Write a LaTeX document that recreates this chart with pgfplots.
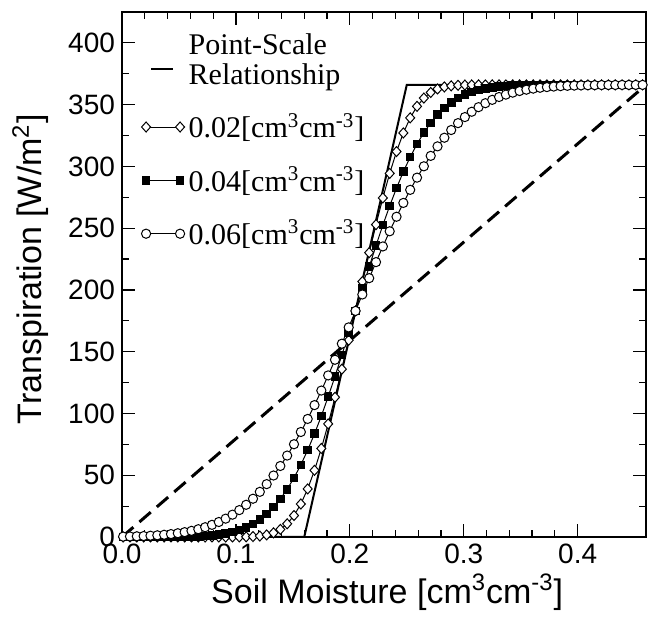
\documentclass[border=0pt]{standalone}
\usepackage{fontspec}
\setmainfont{Liberation Sans}
\newfontfamily\timesfont{Liberation Serif}
\usepackage{pgfplots}
\usepackage{pgfplotstable}
\pgfplotsset{compat=1.18}

% areal-mean transpiration, sigma = 0.02 / 0.04 / 0.06
\pgfplotstableread{
x s2 s4 s6
0.001 0 0 0.31
0.007 0 0 0.42
0.013 0 0 0.57
0.019 0 0 0.77
0.025 0 0 1.03
0.031 0 0 1.37
0.037 0 0.05 1.80
0.043 0 0.08 2.35
0.049 0 0.14 3.04
0.055 0 0.22 3.91
0.061 0 0.35 4.98
0.067 0 0.55 6.30
0.073 0 0.85 7.90
0.079 0 1.29 9.82
0.085 0 1.92 12.13
0.091 0 2.79 14.84
0.097 0 4.01 18.05
0.103 0.05 5.64 21.76
0.109 0.14 7.81 26.07
0.115 0.35 10.60 30.97
0.121 0.79 14.18 36.54
0.127 1.68 18.66 42.79
0.133 3.33 24.16 49.77
0.139 6.16 30.80 57.48
0.145 10.67 38.68 65.92
0.151 17.38 47.88 75.10
0.157 26.71 58.42 84.99
0.163 38.91 70.32 95.56
0.169 53.98 83.54 106.76
0.175 71.67 97.98 118.53
0.181 91.55 113.54 130.79
0.187 113.13 130.04 143.47
0.193 135.84 147.26 156.47
0.199 159.25 165.00 169.68
0.205 183.00 183.00 183.00
0.211 206.75 201.00 196.32
0.217 230.16 218.74 209.53
0.223 252.87 235.96 222.53
0.229 274.45 252.46 235.21
0.235 294.33 268.02 247.47
0.241 312.02 282.46 259.24
0.247 327.09 295.68 270.44
0.253 339.29 307.58 281.01
0.259 348.62 318.12 290.90
0.265 355.33 327.32 300.08
0.271 359.84 335.20 308.52
0.277 362.67 341.84 316.23
0.283 364.32 347.34 323.21
0.289 365.21 351.82 329.46
0.295 365.65 355.40 335.03
0.301 365.86 358.19 339.93
0.307 365.95 360.36 344.24
0.313 366 361.99 347.95
0.319 366 363.21 351.16
0.325 366 364.08 353.87
0.331 366 364.71 356.18
0.337 366 365.15 358.10
0.343 366 365.45 359.70
0.349 366 365.65 361.02
0.355 366 365.78 362.09
0.361 366 365.86 362.96
0.367 366 365.92 363.65
0.373 366 365.95 364.20
0.379 366 366 364.63
0.385 366 366 364.97
0.391 366 366 365.23
0.397 366 366 365.43
0.403 366 366 365.58
0.409 366 366 365.69
0.415 366 366 365.78
0.421 366 366 365.85
0.427 366 366 365.89
0.433 366 366 365.92
0.439 366 366 365.95
0.445 366 366 365.96
0.451 366 366 365.98
0.457 366 366 365.98
}\transp

\begin{document}
\begin{tikzpicture}
\begin{axis}[
    scale only axis,
    width=262pt, height=262.5pt,
    xmin=0, xmax=0.46, ymin=0, ymax=425,
    xtick={0,0.1,0.2,0.3,0.4}, minor x tick num=4,
    ytick={0,50,...,400}, minor y tick num=1,
    tick align=inside,
    major tick length=6.5pt, minor tick length=3.5pt,
    axis line style={line width=0.6pt}, tick style={line width=0.6pt, black},
    xticklabel style={/pgf/number format/fixed, /pgf/number format/precision=1, /pgf/number format/fixed zerofill},
    /pgf/number format/assume math mode=true,
    tick label style={font=\fontsize{14}{16}\selectfont},
    xlabel={Soil Moisture [cm\textsuperscript{3}cm\textsuperscript{-3}]},
    ylabel={Transpiration [W/m\textsuperscript{2}]},
    every axis x label/.style={at={(axis description cs:0.506,-0.105)}, anchor=center,
      font=\fontsize{17}{20}\selectfont},
    every axis y label/.style={at={(axis description cs:-0.175,0.51)}, rotate=90, anchor=center,
      font=\fontsize{17}{20}\selectfont},
    legend style={at={(axis description cs:0.025,0.975)}, anchor=north west, draw=none, fill=none,
      font=\timesfont\fontsize{15}{15}\selectfont, row sep=9pt,
      cells={anchor=west, align=left}},
    legend image code/.code={\draw plot coordinates {(0pt,0pt) (17pt,0pt)};},
]
\addplot[black, line width=1pt, legend image code/.code={
    \path[draw=none] (2.5pt,0pt) -- (13.5pt,0pt);
    \draw[overlay, line width=1pt] (2.5pt,-4.5pt) -- (13.5pt,-4.5pt);}]
  coordinates {(0,0) (0.16,0) (0.25,366) (0.46,366)};
\addlegendentry{Point-Scale\\Relationship}
\addplot[black, line width=1.5pt, dash pattern=on 7.5pt off 4pt, forget plot]
  coordinates {(0,0) (0.46,366)};
\addplot[black, line width=0.5pt, mark=diamond*, mark size=2.5pt, mark options={fill=white, line width=0.5pt, xscale=1.2}]
  table[x=x, y=s2] {\transp};
\addlegendentry{0.02[cm\textsuperscript{3}cm\textsuperscript{-3}]}
\addplot[black, line width=0.5pt, mark=square*, mark size=1.9pt, mark options={fill=black}]
  table[x=x, y=s4] {\transp};
\addlegendentry{0.04[cm\textsuperscript{3}cm\textsuperscript{-3}]}
\addplot[black, line width=0.5pt, mark=*, mark size=2.3pt, mark options={fill=white, line width=0.5pt}]
  table[x=x, y=s6] {\transp};
\addlegendentry{0.06[cm\textsuperscript{3}cm\textsuperscript{-3}]}
\end{axis}
\path (current axis.south west) ++(-61pt,-41pt) coordinate (bl);
\path (current axis.north east) ++(4.5pt,6pt) coordinate (tr);
\pgfresetboundingbox
\path[use as bounding box] (bl) rectangle (tr);
\end{tikzpicture}
\end{document}
